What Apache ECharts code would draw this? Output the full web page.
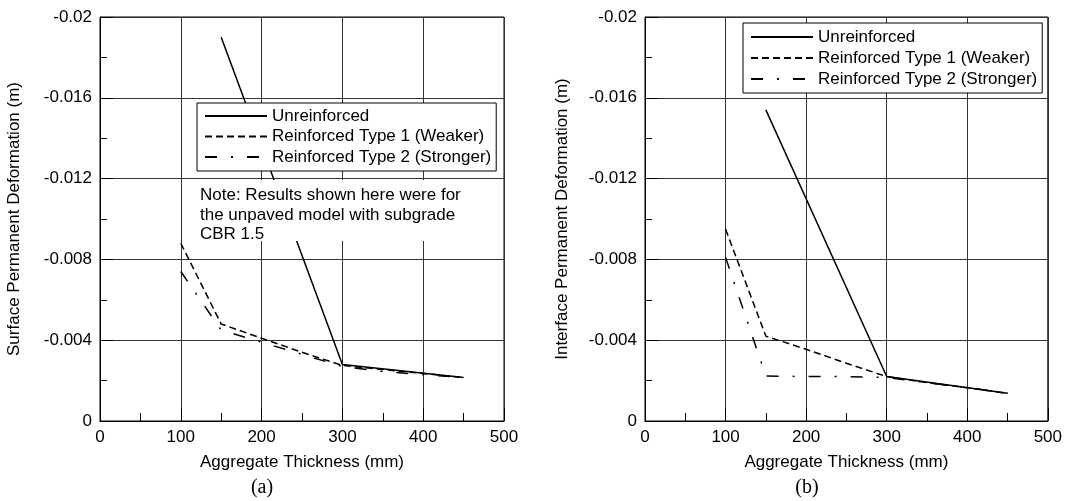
<!DOCTYPE html>
<html>
<head>
<meta charset="utf-8">
<script src="https://cdn.jsdelivr.net/npm/echarts@6/dist/echarts.min.js"></script>
<style>
html, body { margin: 0; padding: 0; background: #fff; }
#main { width: 1065px; height: 501px; }
</style>
</head>
<body>
<div id="main"></div>
<script>
// aggregate thickness (mm)
var thickness = [100, 150, 200, 250, 300, 350, 400, 450];
var thicknessUnr = [150, 300, 450];
var xTicks = [0, 100, 200, 300, 400, 500];
var yTicks = [-0.02, -0.016, -0.012, -0.008, -0.004, 0];

// (a) surface permanent deformation (m)
var surfUnr = [-0.0190, -0.0028, -0.00215];
var surfType1 = [-0.0088, -0.0048, -0.0041, -0.0034, -0.00275, -0.00255, -0.00235, -0.00215];
var surfType2 = [-0.0074, -0.0045, -0.0039, -0.0033, -0.0027, -0.00245, -0.0023, -0.00215];

// (b) interface permanent deformation (m)
var intfUnr = [-0.0154, -0.0022, -0.00137];
var intfType1 = [-0.0095, -0.0042, -0.00355, -0.00286, -0.0022, -0.0019, -0.00165, -0.00137];
var intfType2 = [-0.0081, -0.00223, -0.0022, -0.0022, -0.00216, -0.0019, -0.00165, -0.00137];

var names = ['Unreinforced', 'Reinforced Type 1 (Weaker)', 'Reinforced Type 2 (Stronger)'];

function pairs(xs, ys) {
  return xs.map(function (x, i) { return [x, ys[i]]; });
}

var font = 'Liberation Sans, Arial, sans-serif';
var fs = 17;
var lineStyles = [
  { color: '#000', width: 1.5, type: 'solid' },
  { color: '#000', width: 1.5, type: [7, 4] },
  { color: '#000', width: 1.5, type: [12, 14, 2, 14] }
];

function xAxis(idx) {
  return {
    gridIndex: idx,
    type: 'value',
    min: xTicks[0],
    max: xTicks[xTicks.length - 1],
    interval: 100,
    name: 'Aggregate Thickness (mm)',
    nameLocation: 'middle',
    nameGap: 33,
    nameTextStyle: { color: '#000', fontSize: fs, fontFamily: font },
    axisLine: { show: true, lineStyle: { color: '#000', width: 1 } },
    axisTick: { show: true, inside: true, length: 13, lineStyle: { color: '#000' } },
    minorTick: { show: true, splitNumber: 2, length: 8, lineStyle: { color: '#000' } },
    axisLabel: { color: '#000', fontSize: fs, fontFamily: font, margin: 8 },
    splitLine: { show: true, lineStyle: { color: '#333', width: 1 } }
  };
}

function yAxis(idx, name, gap) {
  return {
    gridIndex: idx,
    type: 'value',
    inverse: true,
    min: yTicks[0],
    max: yTicks[yTicks.length - 1],
    interval: 0.004,
    name: name,
    nameLocation: 'middle',
    nameGap: gap,
    nameTextStyle: { color: '#000', fontSize: fs, fontFamily: font },
    axisLine: { show: true, onZero: false, lineStyle: { color: '#000', width: 1 } },
    axisTick: { show: true, inside: true, length: 13, lineStyle: { color: '#000' } },
    minorTick: { show: true, splitNumber: 2, length: 7, lineStyle: { color: '#000' } },
    axisLabel: { color: '#000', fontSize: fs, fontFamily: font, margin: 8 },
    splitLine: { show: true, lineStyle: { color: '#333', width: 1 } }
  };
}

function legend(left, top, pad, gap) {
  return {
    orient: 'vertical',
    left: left,
    top: top,
    data: names,
    itemWidth: 62,
    itemHeight: 14,
    itemGap: gap,
    padding: pad,
    backgroundColor: '#fff',
    borderColor: '#000',
    borderWidth: 1,
    borderRadius: 0,
    selectedMode: false,
    itemStyle: { color: 'rgba(0,0,0,0)', borderColor: 'rgba(0,0,0,0)', borderWidth: 0 },
    textStyle: { color: '#000', fontSize: fs, fontFamily: font, lineHeight: 20 }
  };
}

function line(name, xi, data, style) {
  return {
    name: name,
    type: 'line',
    xAxisIndex: xi,
    yAxisIndex: xi,
    data: data,
    symbol: 'none',
    silent: true,
    lineStyle: style,
    itemStyle: { color: '#000' },
    z: 3
  };
}

var myChart = echarts.init(document.getElementById('main'));
myChart.setOption({
  animation: false,
  backgroundColor: '#fff',
  grid: [
    { left: 100, top: 17, width: 404, height: 404, show: true, borderColor: '#000', borderWidth: 1, backgroundColor: 'transparent' },
    { left: 645, top: 17, width: 404, height: 404, show: true, borderColor: '#000', borderWidth: 1, backgroundColor: 'transparent' }
  ],
  xAxis: [xAxis(0), xAxis(1)],
  yAxis: [
    yAxis(0, 'Surface Permanent Deformation (m)', 77),
    yAxis(1, 'Interface Permanent Deformation (m)', 74)
  ],
  legend: [
    legend(197, 103, [3, 5, 4, 7], 0.5),
    legend(743, 23, [4, 5, 4, 7], 1)
  ],
  series: [
    line(names[0], 0, pairs(thicknessUnr, surfUnr), lineStyles[0]),
    line(names[1], 0, pairs(thickness, surfType1), lineStyles[1]),
    line(names[2], 0, pairs(thickness, surfType2), lineStyles[2]),
    line(names[0], 1, pairs(thicknessUnr, intfUnr), lineStyles[0]),
    line(names[1], 1, pairs(thickness, intfType1), lineStyles[1]),
    line(names[2], 1, pairs(thickness, intfType2), lineStyles[2])
  ],
  graphic: [
    {
      type: 'rect', z: 100,
      shape: { x: 197, y: 180, width: 262, height: 61 },
      style: { fill: '#fff' }
    },
    {
      type: 'text', z: 101, x: 200, y: 186,
      style: {
        text: 'Note: Results shown here were for\nthe unpaved model with subgrade\nCBR 1.5',
        font: fs + 'px ' + font, fill: '#000', lineHeight: 19.5
      }
    },
    {
      type: 'text', z: 101, x: 262, y: 488,
      style: { text: '(a)', font: '20px Liberation Serif, Times New Roman, serif', fill: '#000', align: 'center', verticalAlign: 'middle', textAlign: 'center', textVerticalAlign: 'middle' }
    },
    {
      type: 'text', z: 101, x: 807, y: 488,
      style: { text: '(b)', font: '20px Liberation Serif, Times New Roman, serif', fill: '#000', align: 'center', verticalAlign: 'middle', textAlign: 'center', textVerticalAlign: 'middle' }
    }
  ]
});
</script>
</body>
</html>
